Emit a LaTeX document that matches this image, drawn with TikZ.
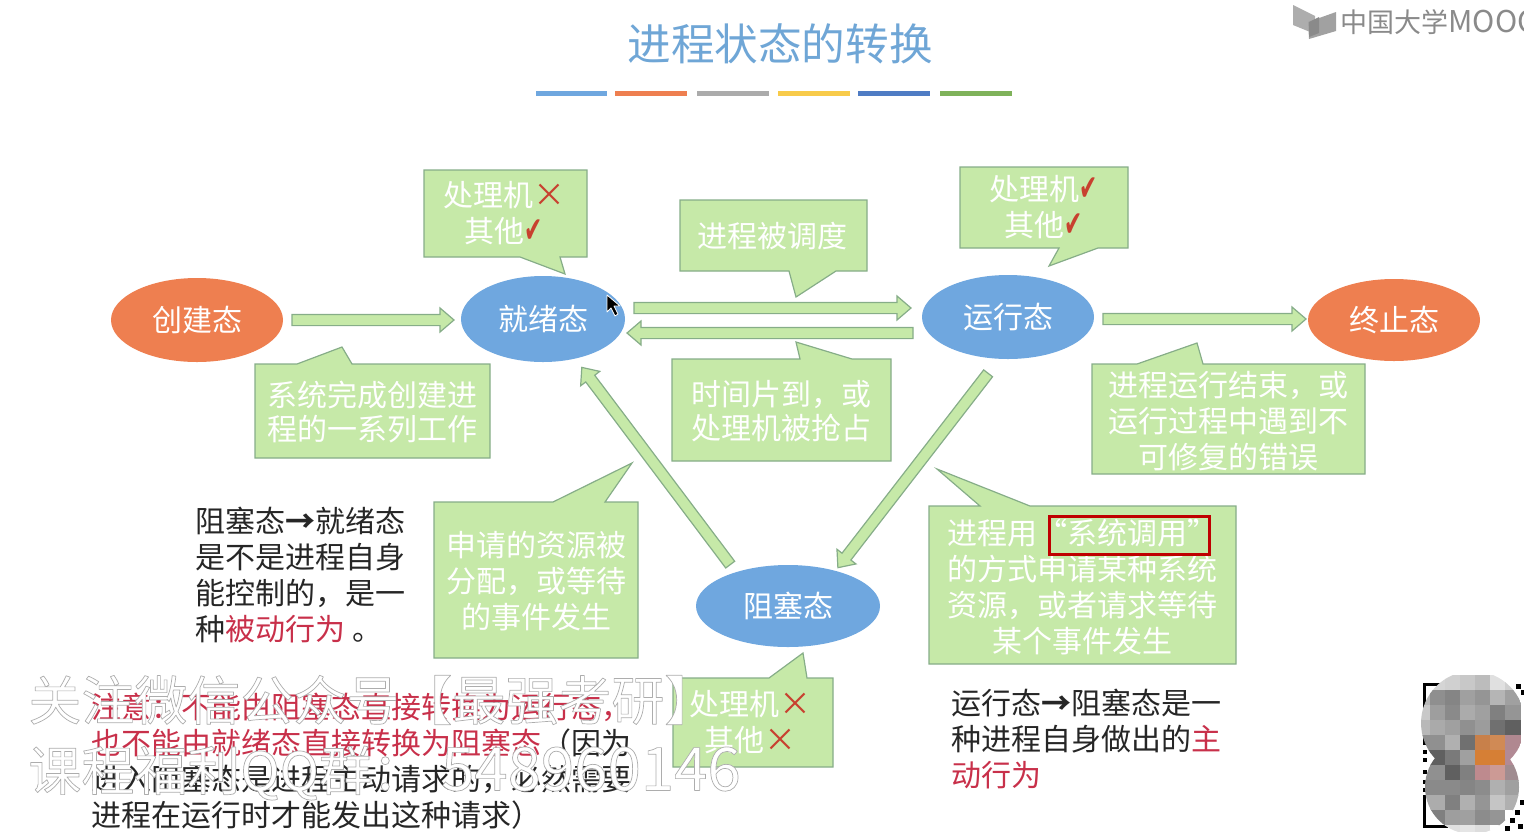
\documentclass[tikz,border=0pt]{standalone}
\usepackage{fontspec}
\setmainfont{Noto Sans CJK SC}
\newfontfamily\symbolfont{DejaVu Sans}
\usetikzlibrary{calc,shapes.geometric}
\definecolor{tipfill}{HTML}{C6E9A8}
\definecolor{tipline}{HTML}{86AD88}
\definecolor{ovalblue}{HTML}{6FA7DF}
\definecolor{ovalorange}{HTML}{EE7F50}
\definecolor{titleblue}{HTML}{6FA6D6}
\definecolor{notered}{HTML}{C8304A}
\definecolor{markred}{HTML}{C8402F}
\definecolor{logogray}{HTML}{8A8A8A}
\definecolor{baryellow}{HTML}{F8CB4A}
\definecolor{bardark}{HTML}{4F7CC4}
\definecolor{bargreen}{HTML}{7FB25A}
\definecolor{bargray}{HTML}{ABABAB}
\tikzset{
    flow/.style={
        draw=tipline, fill=tipfill, line width=.6pt, line join=miter,
        to path={
            let \p1=($(\tikztostart)!4pt!(\tikztotarget)$),
                \p2=($(\tikztotarget)!4pt!(\tikztostart)$),
                \p3=($(\p2)!7pt!(\p1)$) in
            ($(\p1)!2.8pt!90:(\p2)$) -- ($(\p3)!2.8pt!-90:(\p1)$) -- ($(\p3)!6pt!-90:(\p1)$)
            -- (\p2) -- ($(\p3)!6pt!90:(\p1)$) -- ($(\p3)!2.8pt!90:(\p1)$)
            -- ($(\p1)!2.8pt!-90:(\p2)$) -- cycle
        }
    },
    oval/.style={
        ellipse, inner sep=0pt, text=white, font=\fontsize{15}{18}\selectfont
    },
    tipbox/.style={
        draw=tipline, fill=tipfill, line width=.6pt, line join=miter
    },
    tiptext/.style={
        text=white, align=center, inner sep=0pt, font=\fontsize{15}{18}\selectfont
    },
    plain/.style={
        text=black!85, align=left, inner sep=0pt, anchor=north west, font=\fontsize{15}{18}\selectfont
    },
    bar/.style={
        line width=2.5pt, line cap=butt
    }
}
\newcommand{\marksign}[1]{\textcolor{markred}{\fontsize{16}{18}\selectfont #1}}
\newcommand{\marktick}{\textcolor{markred}{\scalebox{0.6}[1]{\symbolfont\fontsize{18}{18}\selectfont ✔}}}
\newcommand{\hollowtext}[1]{{\color{white}\special{pdf:code 2 Tr 0.35 w 0.68 G}#1\special{pdf:code 0 Tr 0 G}}}

\begin{document}
\begin{tikzpicture}[x=0.5pt,y=-0.5pt,line cap=round,line join=round]
    \useasboundingbox (0,0) rectangle (1524,831);

% title and colour bars
    \node[text=titleblue, font=\fontsize{21.8}{30}\selectfont] (title) at (780,44) {进程状态的转换};
    \draw[bar, color=ovalblue] (536,93.5) -- (607,93.5);
    \draw[bar, color=ovalorange] (615,93.5) -- (687,93.5);
    \draw[bar, color=bargray] (697,93.5) -- (769,93.5);
    \draw[bar, color=baryellow] (778,93.5) -- (850,93.5);
    \draw[bar, color=bardark] (858,93.5) -- (930,93.5);
    \draw[bar, color=bargreen] (940,93.5) -- (1012,93.5);

% logo (top right)
    \fill[logogray!70] (1293,5) -- (1315,16) -- (1315,34) -- (1293,25) -- cycle;
    \fill[logogray!80] (1336,12) -- (1336,31) -- (1309,39) -- (1308,22) -- cycle;
    \fill[logogray] (1309,22) -- (1319,17) -- (1319,33) -- (1309,37) -- cycle;
    \begin{scope}
        \clip (1336,0) rectangle (1524,50);
        \node[text=logogray, anchor=west, inner sep=0pt, font=\fontsize{13.5}{18}\selectfont] (logo) at (1340,22) {中国大学{\fontsize{15}{18}\selectfont MOOC}};
    \end{scope}

% states
    \node[oval, fill=ovalorange, minimum width=86, minimum height=42] (create) at (197,320) {创建态};
    \node[oval, fill=ovalblue, minimum width=82, minimum height=43] (ready) at (543,319) {就绪态};
    \node[oval, fill=ovalblue, minimum width=86, minimum height=42] (run) at (1008,317) {运行态};
    \node[oval, fill=ovalorange, minimum width=86, minimum height=41] (stop) at (1394,320) {终止态};
    \node[oval, fill=ovalblue, minimum width=92, minimum height=41] (blocked) at (788,606) {阻塞态};

% free ends of the block arrows
    \coordinate (readyout) at (626,308);
    \coordinate (runin) at (919,308);
    \coordinate (runout) at (921,333);
    \coordinate (readyin) at (619,333);
    \coordinate (runlow) at (993,367);
    \coordinate (blockedin) at (833,574);
    \coordinate (blockedout) at (735,571);
    \coordinate (readylow) at (577,361);
    \coordinate (createout) at (284,320);
    \coordinate (readyleft) at (462,320);
    \coordinate (runright) at (1095,319);
    \coordinate (stopleft) at (1314,319);

% block arrows
    \draw[flow] (createout) to (readyleft);
    \draw[flow] (readyout) to (runin);
    \draw[flow] (runout) to (readyin);
    \draw[flow] (runright) to (stopleft);
    \draw[flow] (runlow) to (blockedin);
    \draw[flow] (blockedout) to (readylow);

% callouts
    \draw[tipbox] (424,170) -- (587,170) -- (587,257) -- (560,257) -- (565,274) -- (520,257) -- (424,257) -- cycle;
    \draw[tipbox] (680,200) -- (867,200) -- (867,271) -- (836,271) -- (796,297) -- (789,271) -- (680,271) -- cycle;
    \draw[tipbox] (960,167) -- (1128,167) -- (1128,248) -- (1098,248) -- (1049,266) -- (1059,248) -- (960,248) -- cycle;
    \draw[tipbox] (255,364) -- (297,364) -- (342,347) -- (352,364) -- (490,364) -- (490,458) -- (255,458) -- cycle;
    \draw[tipbox] (672,359) -- (800,359) -- (796,342) -- (852,359) -- (891,359) -- (891,461) -- (672,461) -- cycle;
    \draw[tipbox] (1092,364) -- (1137,364) -- (1197,343) -- (1203,364) -- (1365,364) -- (1365,474) -- (1092,474) -- cycle;
    \draw[tipbox] (929,506) -- (980,506) -- (937,469) -- (1030,506) -- (1236,506) -- (1236,664) -- (929,664) -- cycle;
    \draw[tipbox] (434,502) -- (553,502) -- (632,463) -- (605,502) -- (638,502) -- (638,658) -- (434,658) -- cycle;
    \draw[tipbox] (673,678) -- (769,678) -- (803,653) -- (807,678) -- (833,678) -- (833,767) -- (673,767) -- cycle;

% callout texts
    \node[tiptext] (readynote) at (504,213) {处理机\marksign{×}\\其他\marktick};
    \node[tiptext] (schednote) at (772,236) {进程被调度};
    \node[tiptext] (runnote) at (1044,207) {处理机\marktick\\其他\marktick};
    \node[tiptext, font=\fontsize{15}{17}\selectfont] (createnote) at (372,412) {系统完成创建进\\程的一系列工作};
    \node[tiptext, font=\fontsize{15}{17}\selectfont] (slicenote) at (781,411) {时间片到，或\\处理机被抢占};
    \node[tiptext] (stopnote) at (1228,421) {进程运行结束，或\\运行过程中遇到不\\可修复的错误};
    \node[tiptext] (callnote) at (1082,587) {进程用“系统调用”\\的方式申请某种系统\\资源，或者请求等待\\某个事件发生};
    \node[tiptext] (grantnote) at (536,581) {申请的资源被\\分配，或等待\\的事件发生};
    \node[tiptext] (blocknote) at (750,722) {处理机\marksign{×}\\其他\marksign{×}};
    \draw[draw=red!75!black, line width=1.5pt, line join=miter] (1049,516) rectangle (1209,554);

% remarks
    \node[plain] (wakenote) at (195,507) {阻塞态{\bfseries →}就绪态\\是不是进程自身\\能控制的，是一\\种\textcolor{notered}{被动行为} 。};
    \node[plain] (sleepnote) at (951,689) {运行态{\bfseries →}阻塞态是一\\种进程自身做出的\textcolor{notered}{主}\\\textcolor{notered}{动行为}};
    \node[plain] (warnnote) at (91,693) {\textcolor{notered}{注意：不能由阻塞态直接转换为运行态，}\\\textcolor{notered}{也不能由就绪态直接转换为阻塞态}（因为\\进入阻塞态是进程主动请求的，必然需要\\进程在运行时才能发出这种请求）};

% mouse pointer
    \draw[fill=black, draw=white, line width=.4pt] (607,295) -- (607,312) -- (611,308) -- (615,316) -- (618,314) -- (614,306) -- (620,306) -- cycle;

% video watermark
    \node[anchor=west, inner sep=0pt, font=\fontsize{26.5}{30}\selectfont] (mark1) at (28,700) {\hollowtext{关注微信公众号【最强考研】}};
    \node[anchor=west, inner sep=0pt, font=\fontsize{26.5}{30}\selectfont] (mark2) at (28,773) {\hollowtext{课程福利QQ群：\hspace{8pt}{\fontsize{30}{30}\selectfont 548960146}}};

% blurred square code
    \draw[black, line width=1.5pt, line cap=butt, line join=miter] (1445,684) -- (1424,684) -- (1424,745);
    \draw[black, line width=1.5pt, line cap=butt, line join=miter] (1424,795) -- (1424,826) -- (1448,826);
    \foreach \yy in {750,758,770,780,788}
        \fill[black] (1423,\yy) rectangle +(4,4);
    \foreach \xx/\yy in {1516/684,1521/690,1510/818,1515/810,1520/800,1505/826,1518/824}
        \fill[black] (\xx,\yy) rectangle +(5,5);
    \begin{scope}
        \clip (1473,723) circle (52) (1472,787) circle (47);
        \foreach \cellshade [count=\cellno from 0] in {
            FFFFFF,D5D5D5,D0D0D0,C8C8C8,BCBCBC,E0E0E0,D0D0D0,
            B8B8B8,8F8F8F,858585,A0A0A0,959595,B5B5B5,A0A0A0,
            C8C8C8,9E9E9E,8A8A8A,ABABAB,A0A0A0,808080,959595,
            B8B8B8,AAAAAA,A0A0A0,909090,9C9C9C,707070,606060,
            909090,909090,B0B0B0,707070,C8804A,D08A55,B08890,
            606060,606060,7A7A7A,A0A0A0,D67F35,D67F35,B28A95,
            909090,909090,606060,808080,BE8A8E,CC9A95,A08C90,
            8A8A8A,8A8A8A,8A8A8A,858585,8C8C8C,B0B0B0,A0A0A0,
            ACACAC,ACACAC,808080,B0B0B0,959595,C5C5C5,B0B0B0,
            808080,808080,9E9E9E,A0A0A0,8C8C8C,959595,FFFFFF,
            DEDEDE,DEDEDE,E0E0E0,E5E5E5,DDDDDD,FFFFFF,FFFFFF
        } {
            \pgfmathtruncatemacro{\ix}{mod(\cellno,7)}
            \pgfmathtruncatemacro{\iy}{floor(\cellno/7)}
            \edef\setmosaic{\noexpand\definecolor{mosaic}{HTML}{\cellshade}}
            \setmosaic
            \fill[mosaic] ({1415+15*\ix},{675+15*\iy}) rectangle +(15.5,15.5);
        }
    \end{scope}

\end{tikzpicture}
\end{document}
